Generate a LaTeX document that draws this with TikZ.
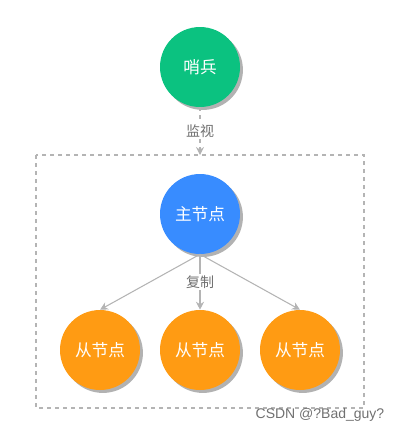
\documentclass[tikz,border=0pt]{standalone}
\usepackage{fontspec}
\newfontfamily\cjk{Noto Sans CJK SC}
\newfontfamily\marksans{Liberation Sans}
\usepackage{tikz}
\usetikzlibrary{shadows,arrows.meta}
\definecolor{sentgreen}{HTML}{0BC280}
\definecolor{masterblue}{HTML}{388CFF}
\definecolor{slaveorange}{HTML}{FF9B13}
\definecolor{linegray}{HTML}{B4B4B4}
\definecolor{textgray}{HTML}{707070}

\begin{document}
\begin{tikzpicture}[x=0.75pt,y=-0.75pt]
\tikzstyle{every node}+=[font=\cjk]
\tikzstyle{role}=[circle, minimum size=60pt, inner sep=0pt, text=white, font=\cjk\fontsize{12.5}{14}\selectfont,
  drop shadow={shadow xshift=2.2pt, shadow yshift=-2.2pt, fill=black!30, opacity=1}]
\tikzstyle{link}=[draw=linegray, line width=0.8pt, -{Stealth[length=6pt,width=6pt]}]
\tikzstyle{tag}=[text=textgray, fill=white, inner sep=1pt, font=\cjk\fontsize{10.5}{12}\selectfont]
\useasboundingbox (0,0) rectangle (404,433);
% cluster frame
\draw [linegray, dashed, line width=0.8pt] (36,155) rectangle (364,408);
\coordinate (frametop) at (200,155);
% nodes
\node [role, fill=sentgreen] (sentinel) at (200,67) {哨兵};
\node [role, fill=masterblue] (master) at (200,214) {主节点};
\node [role, fill=slaveorange] (slaveA) at (100,350) {从节点};
\node [role, fill=slaveorange] (slaveB) at (200,350) {从节点};
\node [role, fill=slaveorange] (slaveC) at (300,350) {从节点};
% connectors
\draw [link, dashed] (sentinel.south) -- node [tag] {监视} (frametop);
\draw [link] (master.south) -- (slaveA.north);
\draw [link] (master.south) -- (slaveC.north);
\draw [link] (master.south) -- node [tag, pos=0.5] {复制} (slaveB.north);
% watermark
\node [text=textgray, font=\marksans\fontsize{10.5}{12}\selectfont] (mark) at (320,415) {CSDN @?Bad\_guy?};
\end{tikzpicture}
\end{document}
